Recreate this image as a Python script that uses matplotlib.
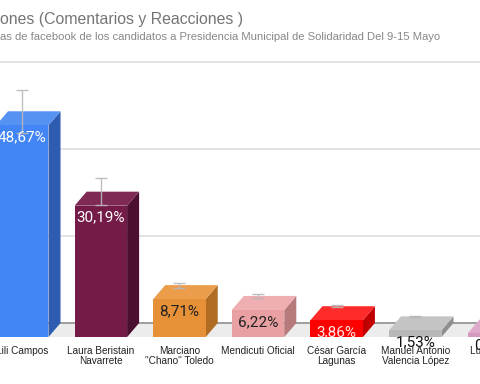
import matplotlib
matplotlib.use('Agg')
import matplotlib.pyplot as plt
from matplotlib.patches import Polygon

# Data (percent of interactions)
candidates = ['Lili Campos', 'Laura Beristain\nNavarrete', 'Marciano\n"Chano" Toledo',
              'Mendicuti Oficial', 'César García\nLagunas', 'Manuel Antonio\nValencia López',
              'Luis Torres']
values = [48.67, 30.19, 8.71, 6.22, 3.86, 1.53, 0.82]
errors = [4.9, 3.15, 0.55, 0.39, 0.28, 0.1, 0.05]
labels = ['48,67%', '30,19%', '8,71%', '6,22%', '3,86%', '1,53%', '0,82%']

front_colors = ['#4285f4', '#741b47', '#e69138', '#e8a0a3', '#ff0000', '#b7b7b7', '#d598be']
side_colors = ['#2d5cb0', '#4b1030', '#b06c22', '#b67a7c', '#c00000', '#8e8e8e', '#a96e93']
top_colors = ['#5592f2', '#7f2955', '#eb9d4c', '#efaeb1', '#ff2a2a', '#c4c4c4', '#dfa9cb']
label_colors = ['white', 'white', '#202020', '#202020', '#ffe8e8', '#111111', '#111111']

gridvals = [0, 20, 40, 60]

fig = plt.figure(figsize=(4.8, 3.84), dpi=100)
ax = fig.add_axes([0, 0, 1, 1])
ax.set_xlim(-0.283, 5.824)
ax.set_ylim(-10.8, 77.47)
ax.axis('off')

width = 0.668
ddx = 0.153   # 3D depth offset (x, category units)
ddy = 3.22    # 3D depth offset (y, percent units)

# gridlines on the back wall
for g in gridvals:
    if g == 0:
        ax.axhline(g + ddy, color='#8f8f8f', lw=1.2, zorder=1.5)
    else:
        ax.axhline(g + ddy, color='#e4e4e4', lw=1.4, zorder=0)

# floor
ax.axhspan(0, ddy, color='#ececec', zorder=1, lw=0)

for i, v in enumerate(values):
    x0, x1 = i - width / 2, i + width / 2
    front = Polygon([(x0, 0), (x1, 0), (x1, v), (x0, v)], closed=True,
                    facecolor=front_colors[i], edgecolor='none', zorder=2)
    side = Polygon([(x1, 0), (x1 + ddx, ddy), (x1 + ddx, v + ddy), (x1, v)], closed=True,
                   facecolor=side_colors[i], edgecolor='none', zorder=2)
    top = Polygon([(x0, v), (x1, v), (x1 + ddx, v + ddy), (x0 + ddx, v + ddy)], closed=True,
                  facecolor=top_colors[i], edgecolor='none', zorder=2)
    ax.add_patch(side)
    ax.add_patch(top)
    ax.add_patch(front)
    ax.errorbar(i, v + ddy, yerr=errors[i], color='#b8b8b8', lw=1, capsize=4.5,
                capthick=1, zorder=3, alpha=0.9)
    ax.annotate(labels[i], (i, v), xytext=(0, -12), textcoords='offset pixels',
                ha='center', va='center', color=label_colors[i],
                family='Roboto', fontsize=11, zorder=4, annotation_clip=False)
    ax.text(i, -2.0, candidates[i], ha='center', va='top', fontsize=7.2,
            family='Liberation Sans', color='#222222', linespacing=1.0, zorder=4)

fig.text(0.0, 1 - 24 / 384, 'ones (Comentarios y Reacciones )', fontsize=11.4,
         family='Liberation Sans', color='#757575', va='baseline', ha='left')
fig.text(0.0, 1 - 39.5 / 384,
         'as de facebook de los candidatos a Presidencia Municipal de Solidaridad Del 9-15 Mayo',
         fontsize=8.1, family='Liberation Sans', color='#888888', va='baseline', ha='left')

fig.savefig('out.png', dpi=100)
